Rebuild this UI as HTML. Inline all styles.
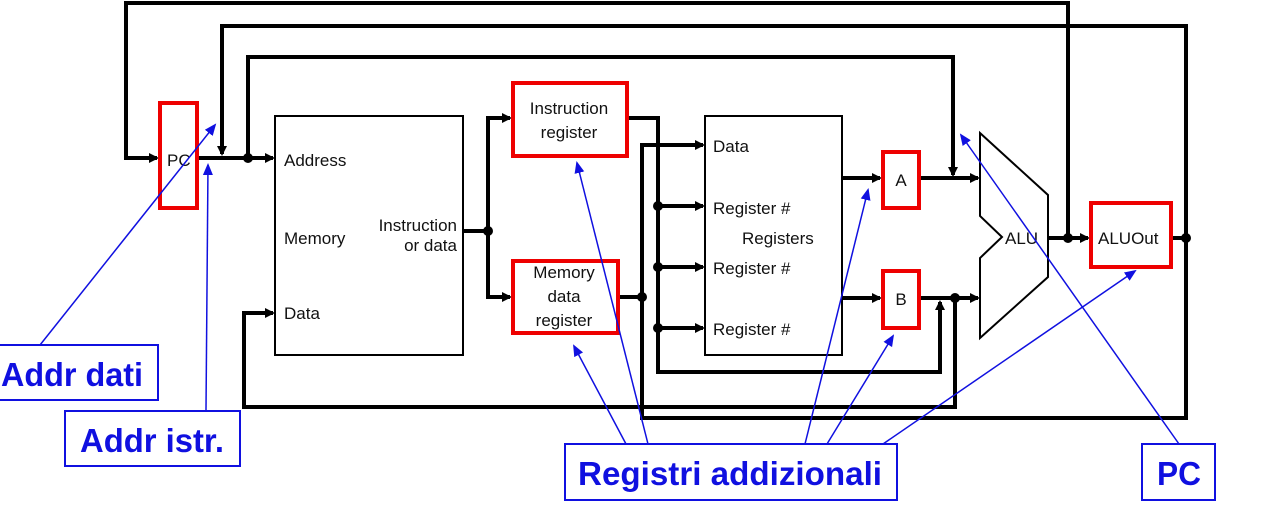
<!DOCTYPE html>
<html><head><meta charset="utf-8"><style>
html,body{margin:0;padding:0;background:#fff;}
svg{display:block;}
.t{font-family:"Liberation Sans",sans-serif;font-size:17px;fill:#111;}
.b{font-family:"Liberation Sans",sans-serif;font-size:33px;font-weight:bold;fill:#1010e0;}
</style></head><body>
<svg width="1265" height="508" viewBox="0 0 1265 508" xmlns="http://www.w3.org/2000/svg">
<defs>
<marker id="ah" markerWidth="10" markerHeight="10" refX="8" refY="5" orient="auto" markerUnits="userSpaceOnUse"><path d="M0,0 L10,5 L0,10 z" fill="#000"/></marker>
<marker id="bh" markerWidth="12" markerHeight="12" refX="10" refY="6" orient="auto" markerUnits="userSpaceOnUse"><path d="M0,1 L12,6 L0,11 z" fill="#1010e0"/></marker>
</defs>
<g fill="none" stroke="#000" stroke-width="4">
<polyline points="1068,238 1068,3 126,3 126,158 157,158" marker-end="url(#ah)"/>
<polyline points="222,150 222,26 1186,26 1186,418 642,418 642,145 703,145" marker-end="url(#ah)"/>
<line x1="222" y1="140" x2="222" y2="154" marker-end="url(#ah)"/>
<polyline points="248,158 248,57 953,57 953,175" marker-end="url(#ah)"/>
<line x1="198" y1="158" x2="273" y2="158" marker-end="url(#ah)"/>
<line x1="463" y1="231" x2="488" y2="231"/>
<polyline points="510,118 488,118 488,297 510,297" />
<line x1="495" y1="118" x2="510" y2="118" marker-end="url(#ah)"/>
<line x1="495" y1="297" x2="510" y2="297" marker-end="url(#ah)"/>
<polyline points="628,118 658,118 658,372 940,372 940,302" marker-end="url(#ah)"/>
<line x1="658" y1="206" x2="703" y2="206" marker-end="url(#ah)"/>
<line x1="658" y1="267" x2="703" y2="267" marker-end="url(#ah)"/>
<line x1="658" y1="328" x2="703" y2="328" marker-end="url(#ah)"/>
<line x1="620" y1="297" x2="642" y2="297"/>
<line x1="842" y1="178" x2="880" y2="178" marker-end="url(#ah)"/>
<line x1="842" y1="298" x2="880" y2="298" marker-end="url(#ah)"/>
<line x1="920" y1="178" x2="978" y2="178" marker-end="url(#ah)"/>
<line x1="920" y1="298" x2="978" y2="298" marker-end="url(#ah)"/>
<polyline points="955,298 955,407 244,407 244,313 273,313" marker-end="url(#ah)"/>
<line x1="1048" y1="238" x2="1088" y2="238" marker-end="url(#ah)"/>
<line x1="1172" y1="238" x2="1186" y2="238"/>
</g>
<g fill="#000">
<circle cx="248" cy="158" r="5"/><circle cx="488" cy="231" r="5"/>
<circle cx="658" cy="206" r="5"/><circle cx="658" cy="267" r="5"/><circle cx="658" cy="328" r="5"/>
<circle cx="642" cy="297" r="5"/><circle cx="955" cy="298" r="5"/>
<circle cx="1068" cy="238" r="5"/><circle cx="1186" cy="238" r="5"/>
</g>
<g fill="#fff" stroke="#000" stroke-width="2">
<rect x="275" y="116" width="188" height="239"/>
<rect x="705" y="116" width="137" height="239"/>
<polygon points="980,133 1048,195 1048,277 980,338 980,258 1002,237 980,216"/>
</g>
<g fill="#fff" stroke="#e00" stroke-width="4">
<rect x="160" y="103" width="37" height="105"/>
<rect x="513" y="83" width="114" height="73"/>
<rect x="513" y="261" width="105" height="72"/>
<rect x="883" y="152" width="36" height="56"/>
<rect x="883" y="271" width="36" height="57"/>
<rect x="1091" y="203" width="80" height="64"/>
</g>
<text class="t" x="167" y="166">PC</text>
<text class="t" x="284" y="166">Address</text>
<text class="t" x="284" y="244">Memory</text>
<text class="t" x="284" y="319">Data</text>
<text class="t" x="457" y="231" text-anchor="end">Instruction</text>
<text class="t" x="457" y="251" text-anchor="end">or data</text>
<text class="t" x="569" y="114" text-anchor="middle">Instruction</text>
<text class="t" x="569" y="138" text-anchor="middle">register</text>
<text class="t" x="564" y="278" text-anchor="middle">Memory</text>
<text class="t" x="564" y="302" text-anchor="middle">data</text>
<text class="t" x="564" y="326" text-anchor="middle">register</text>
<text class="t" x="713" y="152">Data</text>
<text class="t" x="713" y="214">Register #</text>
<text class="t" x="742" y="244">Registers</text>
<text class="t" x="713" y="274">Register #</text>
<text class="t" x="713" y="335">Register #</text>
<text class="t" x="901" y="186" text-anchor="middle">A</text>
<text class="t" x="901" y="305" text-anchor="middle">B</text>
<text class="t" x="1005" y="244">ALU</text>
<text class="t" x="1098" y="244">ALUOut</text>
<g stroke="#1010e0" stroke-width="1.5" fill="none">
<line x1="40" y1="345" x2="215" y2="125" marker-end="url(#bh)"/>
<line x1="206" y1="410" x2="208" y2="165" marker-end="url(#bh)"/>
<line x1="626" y1="444" x2="574" y2="346" marker-end="url(#bh)"/>
<line x1="648" y1="444" x2="577" y2="163" marker-end="url(#bh)"/>
<line x1="805" y1="444" x2="868" y2="190" marker-end="url(#bh)"/>
<line x1="827" y1="444" x2="893" y2="336" marker-end="url(#bh)"/>
<line x1="883" y1="444" x2="1135" y2="271" marker-end="url(#bh)"/>
<line x1="1179" y1="444" x2="961" y2="135" marker-end="url(#bh)"/>
</g>
<g fill="#fff" stroke="#1010e0" stroke-width="2">
<rect x="-2" y="345" width="160" height="55"/>
<rect x="65" y="411" width="175" height="55"/>
<rect x="565" y="444" width="332" height="56"/>
<rect x="1142" y="444" width="73" height="56"/>
</g>
<text class="b" x="1" y="386" textLength="142" lengthAdjust="spacingAndGlyphs">Addr dati</text>
<text class="b" x="80" y="452" textLength="144" lengthAdjust="spacingAndGlyphs">Addr istr.</text>
<text class="b" x="578" y="485" textLength="304" lengthAdjust="spacingAndGlyphs">Registri addizionali</text>
<text class="b" x="1157" y="485" textLength="44" lengthAdjust="spacingAndGlyphs">PC</text>
</svg>
</body></html>
